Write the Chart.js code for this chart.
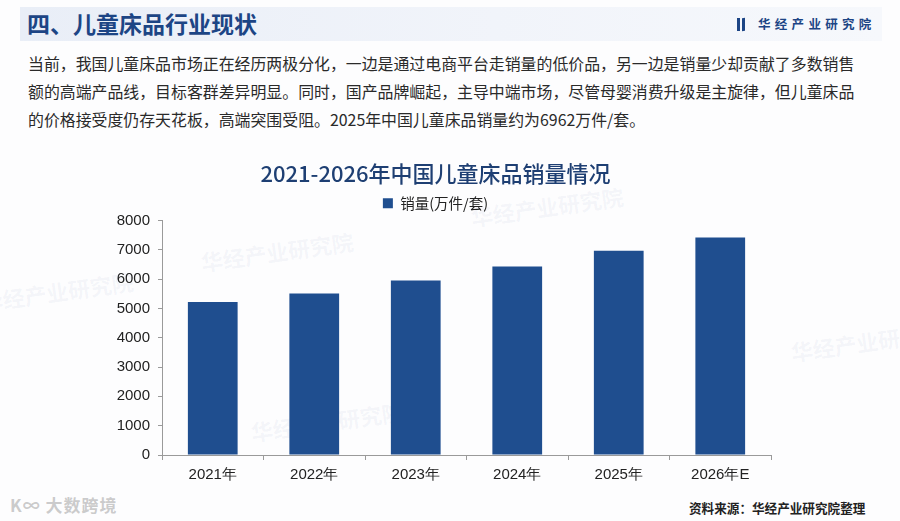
<!DOCTYPE html>
<html>
<head>
<meta charset="utf-8">
<script src="https://cdn.jsdelivr.net/npm/chart.js@4/dist/chart.umd.min.js"></script>
<style>
  body { margin: 0; width: 900px; height: 521px; background: #fdfdfe; position: relative; overflow: hidden;
         font-family: "Noto Sans CJK SC", "Noto Sans", sans-serif; }
  .band { position: absolute; left: 20px; top: 7px; width: 862px; height: 34px;
          background: linear-gradient(90deg, #e9eef7 0%, #f1f4fa 55%, #f6f8fc 100%); }
  .head { position: absolute; left: 27px; top: 6px; font-size: 23px; font-weight: 700; color: #1d4585; }
  .logo { position: absolute; left: 737px; top: 14px; font-size: 12.5px; font-weight: 700; color: #1d4585; letter-spacing: 4.3px; }
  .logo i { display: inline-block; width: 3px; height: 13px; background: #1d4585; margin-right: 2px; vertical-align: -2px; }
  .logo i.b { margin-right: 13px; transform: skewY(-12deg); }
  .para { position: absolute; left: 28px; font-size: 15.9px; color: #2a2a2a; white-space: nowrap; }
  .src { position: absolute; left: 689px; top: 498px; font-size: 12.6px; font-weight: 700; color: #222; }
  .wm { position: absolute; color: rgba(120,140,180,0.07); font-size: 22px; font-weight: 700; transform: rotate(-8deg); white-space: nowrap; }
  .dsk { position: absolute; left: 10px; top: 492px; font-size: 17px; color: rgba(160,160,160,0.55); font-weight: 700; letter-spacing: 1px; }
  #wrap { position: absolute; left: 0; top: 140px; width: 900px; height: 356px; }
</style>
</head>
<body>
<div class="band"></div>
<div class="head">四、儿童床品行业现状</div>
<div class="logo"><i></i><i class="b"></i>华经产业研究院</div>
<div class="para" style="top:52px">当前，我国儿童床品市场正在经历两极分化，一边是通过电商平台走销量的低价品，另一边是销量少却贡献了多数销售</div>
<div class="para" style="top:80px">额的高端产品线，目标客群差异明显。同时，国产品牌崛起，主导中端市场，尽管母婴消费升级是主旋律，但儿童床品</div>
<div class="para" style="top:108px">的价格接受度仍存天花板，高端突围受阻。2025年中国儿童床品销量约为6962万件/套。</div>
<div class="wm" style="left:200px;top:235px">华经产业研究院</div>
<div class="wm" style="left:470px;top:190px">华经产业研究院</div>
<div class="wm" style="left:250px;top:405px">华经产业研究院</div>
<div class="wm" style="left:790px;top:325px">华经产业研究院</div>
<div class="wm" style="left:-20px;top:275px">华经产业研究院</div>
<div class="dsk">K∞ 大数跨境</div>
<div id="wrap"><canvas id="c"></canvas></div>
<div class="src">资料来源：华经产业研究院整理</div>
<script>
const years = ['2021年', '2022年', '2023年', '2024年', '2025年', '2026年E'];
const sales = [5220, 5510, 5950, 6430, 6962, 7420];
const seriesName = '销量(万件/套)';
const chartTitle = '2021-2026年中国儿童床品销量情况';
const yTicks = [0, 1000, 2000, 3000, 4000, 5000, 6000, 7000, 8000];

const blue = '#1f4e8f';
const axisGrey = '#9a9a9a';
const tickFont = { family: '"Liberation Sans", Arial, sans-serif', size: 15 };

new Chart(document.getElementById('c'), {
  type: 'bar',
  data: {
    labels: years,
    datasets: [{
      label: seriesName,
      data: sales,
      backgroundColor: blue,
      borderWidth: 0,
      barPercentage: 0.49,
      categoryPercentage: 1
    }]
  },
  options: {
    responsive: true,
    maintainAspectRatio: false,
    animation: false,
    layout: { padding: { left: 100, right: 129, top: 0, bottom: 6 } },
    plugins: {
      title: {
        display: true,
        text: chartTitle,
        color: '#1e3f73',
        font: { family: '"Noto Sans CJK SC", sans-serif', size: 22, weight: '500' },
        padding: { top: 20, bottom: 8 }
      },
      legend: {
        display: true,
        position: 'top',
        labels: {
          boxWidth: 10, boxHeight: 10, padding: 1.5,
          color: '#222',
          font: { family: '"Noto Sans CJK SC", sans-serif', size: 14.5 }
        }
      },
      tooltip: { enabled: false }
    },
    scales: {
      x: {
        offset: true,
        grid: { offset: true, drawOnChartArea: false, drawTicks: true, tickLength: 5, color: axisGrey },
        border: { color: axisGrey, width: 1 },
        ticks: { color: '#222', padding: 6, font: tickFont }
      },
      y: {
        min: 0, max: 8000,
        afterBuildTicks: s => { s.ticks = yTicks.map(v => ({ value: v })); },
        afterFit: s => { s.width = 62; },
        grid: { drawOnChartArea: false, drawTicks: true, tickLength: 4, color: axisGrey },
        border: { color: axisGrey, width: 1 },
        ticks: { color: '#222', padding: 8, font: tickFont, callback: v => String(v) }
      }
    }
  }
});
</script>
</body>
</html>
